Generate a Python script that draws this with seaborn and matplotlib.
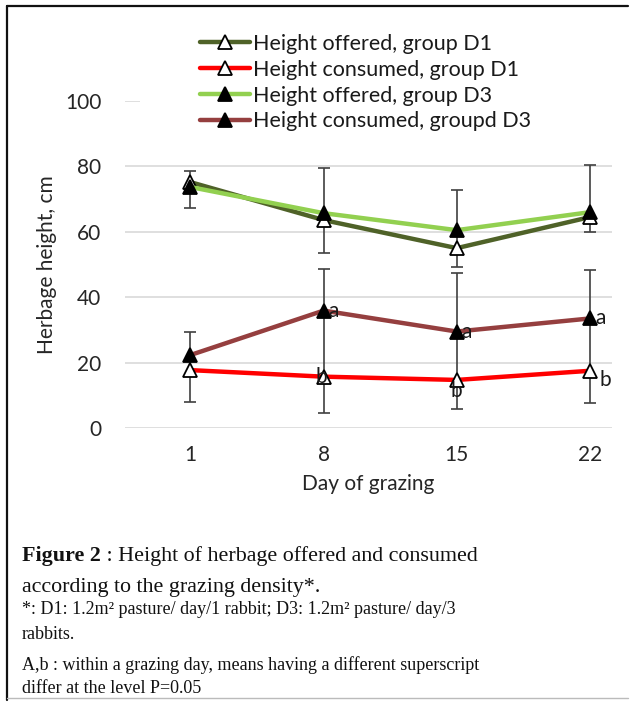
import numpy as np
import pandas as pd
import matplotlib
matplotlib.use("Agg")
import matplotlib.pyplot as plt
import seaborn as sns
from matplotlib.lines import Line2D
from matplotlib.patches import Rectangle
import matplotlib.transforms as mtransforms

# ---------------- data ----------------
days = ["1", "8", "15", "22"]
offered_d1 = [75.2, 63.6, 55.0, 64.5]
consumed_d1 = [17.7, 15.7, 14.7, 17.5]
offered_d3 = [73.7, 65.7, 60.5, 66.0]
consumed_d3 = [22.3, 35.9, 29.5, 33.5]
offered_err_low = [67.3, 53.5, 49.2, 60.0]
offered_err_high = [78.6, 79.5, 72.8, 80.4]
consumed_err_low = [8.0, 4.7, 5.8, 7.7]
consumed_err_high = [29.5, 48.6, 47.4, 48.3]
letters_d3 = ["", "a", "a", "a"]
letters_d1 = ["", "b", "b", "b"]
series_names = ["Height offered, group D1", "Height consumed, group D1",
                "Height offered, group D3", "Height consumed, groupd D3"]
y_ticks = [0, 20, 40, 60, 80, 100]

# ---------------- style ----------------
sns.set_style("white")
plt.rcParams["font.family"] = ["Lato", "DejaVu Sans"]

W, H = 630, 702
fig = plt.figure(figsize=(W / 100, H / 100), dpi=100)
ax = fig.add_axes([125 / W, 1 - 428 / H, (612 - 125) / W, (428 - 101) / H])

pos = np.arange(len(days))
colors = ["#4f6228", "#ff0000", "#92d050", "#953f3f"]
faces = ["white", "white", "black", "black"]
values = [offered_d1, consumed_d1, offered_d3, consumed_d3]

# error bars
ax.errorbar(pos, offered_d3,
            yerr=[np.array(offered_d3) - np.array(offered_err_low),
                  np.array(offered_err_high) - np.array(offered_d3)],
            fmt="none", ecolor="#404040", elinewidth=1.2, capsize=4, capthick=1.2, zorder=1.8)
ax.errorbar(pos, consumed_d3,
            yerr=[np.array(consumed_d3) - np.array(consumed_err_low),
                  np.array(consumed_err_high) - np.array(consumed_d3)],
            fmt="none", ecolor="#404040", elinewidth=1.2, capsize=4, capthick=1.2, zorder=1.8)

for vals, col, fc, name in zip(values, colors, faces, series_names):
    df = pd.DataFrame({"pos": pos, "val": vals})
    sns.lineplot(data=df, x="pos", y="val", ax=ax, color=col, lw=3.2,
                 marker="^", markersize=10, markerfacecolor=fc,
                 markeredgecolor="black", markeredgewidth=1.3, label=name)

# significance letters
a_offsets = [(0, 0), (3.5, 0), (3.5, 0), (3.5, 0)]
b_offsets = [(0, 0), (-1.5, 0), (0, -8), (11, -6.5)]
for i, t in enumerate(letters_d3):
    if t:
        ax.annotate(t, (pos[i], consumed_d3[i]), xytext=a_offsets[i],
                    textcoords="offset points", ha="left", va="center", fontsize=15,
                    color="#1a1a1a", zorder=5)
for i, t in enumerate(letters_d1):
    if t:
        ax.annotate(t, (pos[i], consumed_d1[i]), xytext=b_offsets[i],
                    textcoords="offset points", ha="center", va="center", fontsize=15,
                    color="#1a1a1a", zorder=5)

# axes styling
ax.set_xlim(-0.49, 3.165)
ax.set_ylim(0, 100)
ax.set_yticks(y_ticks)
ax.set_xticks(pos)
ax.set_xticklabels(days)
for s in ax.spines.values():
    s.set_visible(False)
ax.yaxis.grid(True, color="#d9d9d9", lw=1.2)
ax.xaxis.grid(False)
ax.set_axisbelow(True)
ax.tick_params(axis="both", length=0, labelsize=15, colors="#262626")
ax.tick_params(axis="y", pad=17)
ax.tick_params(axis="x", pad=12)
ax.set_xlabel("Day of grazing", fontsize=15, color="#262626", labelpad=7)
ax.set_ylabel("Herbage height, cm", fontsize=15, color="#262626")
ax.yaxis.set_label_coords(-0.14, 0.5)

# white cover behind legend hiding the 100 gridline
trans = mtransforms.blended_transform_factory(ax.transAxes, ax.transData)
ax.add_patch(Rectangle((0.031, 98.5), 1.0, 3.0, transform=trans, facecolor="white",
                       edgecolor="none", zorder=1, clip_on=False))

leg = ax.legend(loc="upper left", bbox_to_anchor=(200 / W, 1 - 34 / H),
                bbox_transform=fig.transFigure, frameon=False, fontsize=15.5,
                handlelength=2.3, handletextpad=0.15, labelspacing=0.27,
                borderpad=0, borderaxespad=0)
for txt in leg.get_texts():
    txt.set_color("#1a1a1a")

# ---------------- caption ----------------
serif = ["Liberation Serif", "DejaVu Serif"]
renderer = fig.canvas.get_renderer()
t1 = fig.text(22 / W, 1 - 561 / H, "Figure 2", family=serif, fontsize=15.8,
              fontweight="bold", va="baseline", ha="left", color="#111111")
bb = t1.get_window_extent(renderer=renderer)
fig.text(bb.x1 / W, 1 - 561 / H, " : Height of herbage offered and consumed", family=serif,
         fontsize=15.8, va="baseline", ha="left", color="#111111")
fig.text(22 / W, 1 - 592 / H, "according to the grazing density*.", family=serif,
         fontsize=15.8, va="baseline", ha="left", color="#111111")
fig.text(22 / W, 1 - 614 / H, "*: D1: 1.2m² pasture/ day/1 rabbit; D3: 1.2m² pasture/ day/3",
         family=serif, fontsize=13, va="baseline", ha="left", color="#111111")
fig.text(22 / W, 1 - 639 / H, "rabbits.", family=serif, fontsize=13, va="baseline",
         ha="left", color="#111111")
fig.text(22 / W, 1 - 670 / H, "A,b : within a grazing day, means having a different superscript",
         family=serif, fontsize=13, va="baseline", ha="left", color="#111111")
fig.text(22 / W, 1 - 693 / H, "differ at the level P=0.05", family=serif, fontsize=13,
         va="baseline", ha="left", color="#111111")

# frame
fig.add_artist(Line2D([7 / W, 7 / W], [1 - 6 / H, 1 - 700 / H], color="#111111", lw=1.6))
fig.add_artist(Line2D([7 / W, 628 / W], [1 - 6 / H, 1 - 6 / H], color="#111111", lw=1.6))
fig.add_artist(Line2D([7 / W, 628 / W], [1 - 698 / H, 1 - 698 / H], color="#bbbbbb", lw=1.0))

fig.savefig("out.png", dpi=100)
